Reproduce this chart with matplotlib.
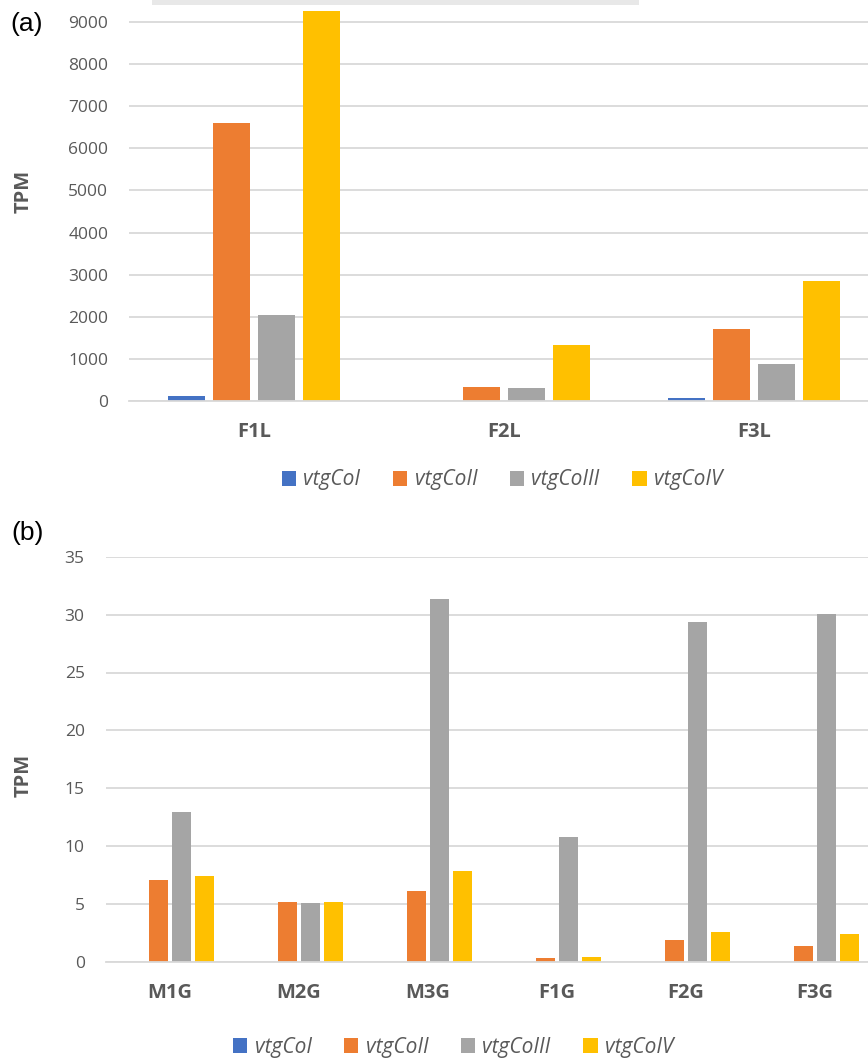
import matplotlib
matplotlib.use("Agg")
import matplotlib.pyplot as plt
import numpy as np
from matplotlib.patches import Rectangle, Patch

# ---- data ----
series = ["vtgCoI", "vtgCoII", "vtgCoIII", "vtgCoIV"]
colors = ["#4472C4", "#ED7D31", "#A5A5A5", "#FFC000"]

liver_groups = ["F1L", "F2L", "F3L"]
liver_coI = [100, 0, 55]
liver_coII = [6600, 333, 1717]
liver_coIII = [2050, 300, 880]
liver_coIV = [9260, 1313, 2858]
liver_ticks = [0, 1000, 2000, 3000, 4000, 5000, 6000, 7000, 8000, 9000]

gonad_groups = ["M1G", "M2G", "M3G", "F1G", "F2G", "F3G"]
gonad_coI = [0, 0, 0, 0, 0, 0]
gonad_coII = [7.06, 5.19, 6.11, 0.32, 1.9, 1.41]
gonad_coIII = [12.95, 5.1, 31.33, 10.78, 29.35, 30.06]
gonad_coIV = [7.46, 5.16, 7.84, 0.46, 2.62, 2.42]
gonad_ticks = [0, 5, 10, 15, 20, 25, 30, 35]

TXT = "#595959"
GRID = "#D9D9D9"
FONT = "Open Sans"

W, H = 868, 1059
fig = plt.figure(figsize=(W / 100, H / 100), dpi=100)


def px_box(left, right, top, bottom):
    return [left / W, 1 - bottom / H, (right - left) / W, (bottom - top) / H]


def draw_panel(ax, groups, values, ticks, ylim, width):
    x = np.arange(len(groups))
    offsets = [-0.27, -0.09, 0.09, 0.27]
    for vals, off, c in zip(values, offsets, colors):
        ax.bar(x + off, vals, width=width, color=c, linewidth=0, zorder=3)
    ax.set_xlim(-0.5, len(groups) - 0.5)
    ax.set_ylim(*ylim)
    ax.set_yticks(ticks)
    ax.set_yticklabels([str(t) for t in ticks], fontsize=12.5, color=TXT, family=FONT)
    ax.set_xticks(x)
    ax.set_xticklabels(groups, fontsize=14.5, color=TXT, family=FONT, fontweight="bold")
    ax.tick_params(axis="y", length=0, pad=15)
    ax.tick_params(axis="x", length=0, pad=15)
    ax.grid(axis="y", color=GRID, linewidth=1.3, zorder=0)
    for s in ["top", "right", "left"]:
        ax.spines[s].set_visible(False)
    ax.spines["bottom"].set_color(GRID)
    ax.spines["bottom"].set_linewidth(1.3)
    ax.spines["bottom"].set_zorder(4)


def add_legend(cx, cy):
    handles = [Patch(facecolor=c, edgecolor="none") for c in colors]
    fig.legend(handles, series, loc="center", bbox_to_anchor=(cx / W, 1 - cy / H),
               ncol=4, frameon=False, handlelength=0.7, handleheight=0.7,
               handletextpad=0.35, columnspacing=1.55,
               prop={"family": FONT, "style": "italic", "size": 15},
               labelcolor=TXT)


# ---- panel (a): liver ----
ax1 = fig.add_axes(px_box(129, 879, 0, 400.7))
draw_panel(ax1, liver_groups, [liver_coI, liver_coII, liver_coIII, liver_coIV],
           liver_ticks, (0, 9531), 0.145)

# ---- panel (b): gonad ----
ax2 = fig.add_axes(px_box(105.5, 879.5, 556.7, 962))
draw_panel(ax2, gonad_groups, [gonad_coI, gonad_coII, gonad_coIII, gonad_coIV],
           gonad_ticks, (0, 35), 0.147)

add_legend(502, 480)
add_legend(453, 1047)

fig.text(24 / W, 1 - 191 / H, "TPM", rotation=90, ha="center", va="center",
         fontsize=14.5, fontweight="bold", color=TXT, family=FONT)
fig.text(24 / W, 1 - 775 / H, "TPM", rotation=90, ha="center", va="center",
         fontsize=14.5, fontweight="bold", color=TXT, family=FONT)

fig.text(10 / W, 1 - 24 / H, "(a)", ha="left", va="center", fontsize=19,
         color="black", family="Liberation Sans")
fig.text(11 / W, 1 - 533 / H, "(b)", ha="left", va="center", fontsize=19,
         color="black", family="Liberation Sans")

# strip along the top edge
fig.add_artist(Rectangle((152 / W, 1 - 4.7 / H), (639 - 152) / W, 4.7 / H,
                         transform=fig.transFigure, facecolor="#E8E8E8",
                         edgecolor="none", zorder=5))

fig.savefig("out.png", dpi=100)
